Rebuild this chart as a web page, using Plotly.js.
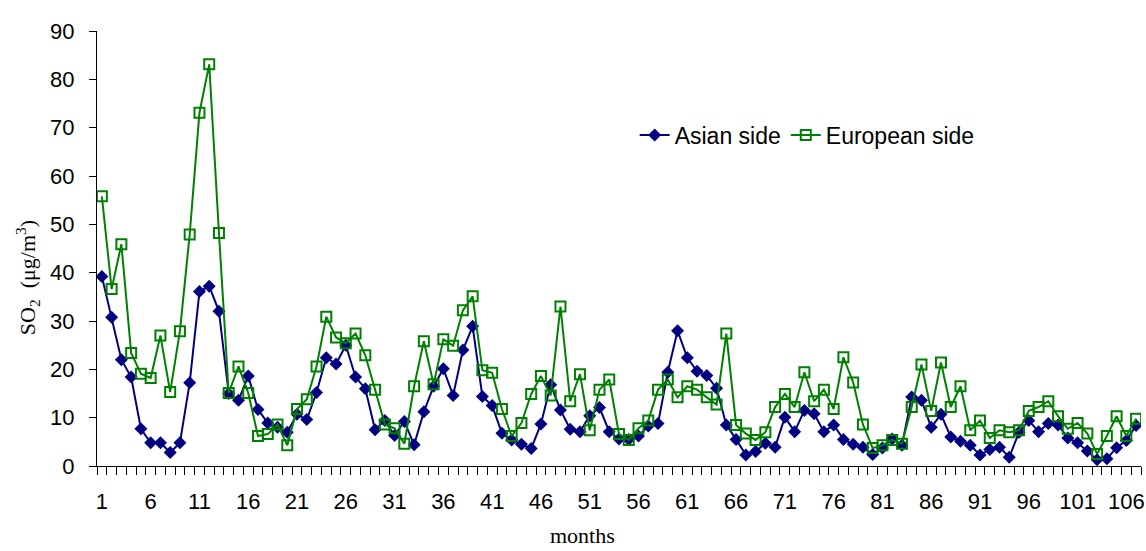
<!DOCTYPE html>
<html>
<head>
<meta charset="utf-8">
<script src="https://cdn.plot.ly/plotly-3.0.1.min.js"></script>
<style>html,body{margin:0;padding:0;background:#fff;}#chart{width:1146px;height:551px;}</style>
</head>
<body>
<div id="chart"></div>
<script>
// months 1..107
const months = Array.from({length: 107}, (_, i) => i + 1);

const asianSide = [
  39.2, 30.8, 22.0, 18.4, 7.7, 4.8, 4.8, 2.8, 4.8, 17.2,
  36.1, 37.2, 32.0, 15.0, 13.6, 18.6, 11.7, 8.9, 8.0, 7.0,
  10.7, 9.6, 15.2, 22.4, 21.1, 25.0, 18.4, 16.0, 7.5, 9.4,
  6.3, 9.2, 4.4, 11.2, 16.5, 20.1, 14.6, 24.0, 28.9, 14.4,
  12.5, 6.8, 5.4, 4.5, 3.6, 8.7, 16.8, 11.6, 7.6, 7.1,
  10.4, 12.1, 7.1, 5.6, 5.5, 6.2, 8.3, 8.8, 19.4, 28.0,
  22.4, 19.6, 18.7, 16.1, 8.5, 5.5, 2.3, 3.0, 4.7, 3.9,
  10.1, 7.1, 11.5, 10.8, 7.1, 8.5, 5.5, 4.5, 3.9, 2.4,
  3.7, 5.6, 4.3, 14.3, 13.6, 8.0, 10.7, 6.0, 5.1, 4.3,
  2.3, 3.4, 3.9, 1.8, 7.0, 9.4, 7.1, 8.8, 8.5, 5.8,
  4.8, 3.1, 1.3, 1.5, 3.8, 5.3, 8.4
];

const europeanSide = [
  55.8, 36.6, 45.9, 23.4, 19.1, 18.2, 27.0, 15.3, 27.9, 47.9,
  73.1, 83.1, 48.2, 15.1, 20.6, 15.1, 6.2, 6.6, 8.6, 4.3,
  11.8, 13.8, 20.6, 30.9, 26.6, 25.4, 27.4, 22.9, 15.8, 8.6,
  7.8, 4.6, 16.5, 25.8, 16.9, 26.2, 24.9, 32.2, 35.1, 19.8,
  19.3, 11.8, 6.2, 8.9, 14.9, 18.6, 14.6, 33.0, 13.4, 19.0,
  7.4, 15.8, 17.9, 6.6, 5.4, 7.8, 9.4, 15.8, 17.9, 14.2,
  16.5, 15.8, 14.2, 12.7, 27.4, 8.5, 6.7, 5.4, 7.0, 12.2,
  14.9, 12.2, 19.4, 13.4, 15.8, 11.8, 22.5, 17.3, 8.6, 3.7,
  4.3, 5.4, 4.6, 12.2, 21.0, 11.4, 21.4, 12.2, 16.5, 7.4,
  9.4, 5.8, 7.4, 7.0, 7.4, 11.4, 12.2, 13.4, 10.3, 7.7,
  8.9, 6.7, 2.5, 6.2, 10.3, 6.2, 9.8
];

const xTickVals = [1, 6, 11, 16, 21, 26, 31, 36, 41, 46, 51, 56, 61, 66, 71, 76, 81, 86, 91, 96, 101, 106];
const xTickText = xTickVals.map(String);
const yTickVals = [0, 10, 20, 30, 40, 50, 60, 70, 80, 90];

const traces = [
  {
    x: months, y: asianSide, name: 'Asian side', type: 'scatter', mode: 'lines+markers',
    line: {color: '#000080', width: 2},
    marker: {symbol: 'diamond', size: 10, color: '#000080', line: {width: 0}}
  },
  {
    x: months, y: europeanSide, name: 'European side', type: 'scatter', mode: 'lines+markers',
    line: {color: '#008000', width: 2},
    marker: {symbol: 'square-open', size: 10, color: '#008000', line: {width: 2, color: '#008000'}}
  }
];

const layout = {
  width: 1146, height: 551,
  margin: {l: 97, r: 5, t: 31, b: 85},
  paper_bgcolor: '#fff', plot_bgcolor: '#fff',
  font: {family: 'Liberation Sans, Arial, sans-serif', size: 22, color: '#000'},
  showlegend: true,
  legend: {
    orientation: 'h', x: 0.515, y: 0.761, xanchor: 'left', yanchor: 'middle',
    bgcolor: 'rgba(0,0,0,0)', font: {size: 23, family: 'Liberation Sans, Arial, sans-serif'},
    itemwidth: 30
  },
  xaxis: {
    range: [0.5, 107.5], showgrid: false, zeroline: false,
    showline: true, linecolor: '#000', linewidth: 1,
    tickmode: 'array', tickvals: xTickVals, ticktext: xTickText,
    ticks: 'outside', ticklen: 8, tickcolor: 'rgba(0,0,0,0)',
    ticklabelstandoff: 8,
    minor: {ticks: 'outside', tick0: 0.5, dtick: 1, ticklen: 8, tickcolor: '#000', tickwidth: 1, showgrid: false},
    tickfont: {size: 22}
  },
  yaxis: {
    range: [0, 90], showgrid: false, zeroline: false,
    showline: true, linecolor: '#000', linewidth: 1,
    tickmode: 'array', tickvals: yTickVals, ticks: 'outside', ticklen: 7, tickcolor: '#000',
    ticklabelstandoff: 10, tickfont: {size: 22}
  },
  annotations: [
    {
      text: 'SO<sub>2</sub>  (μg/m<sup>3</sup>)', textangle: -90,
      xref: 'paper', yref: 'paper', x: -0.067, y: 0.432, xanchor: 'center', yanchor: 'middle',
      showarrow: false, font: {family: 'Liberation Serif, Times New Roman, serif', size: 22, color: '#000'}
    },
    {
      text: 'months', borderpad: 0,
      xref: 'paper', yref: 'paper', x: 0.465, y: -0.16, xanchor: 'center', yanchor: 'middle',
      showarrow: false, font: {family: 'Liberation Serif, Times New Roman, serif', size: 22, color: '#000'}
    }
  ]
};

Plotly.newPlot('chart', traces, layout, {displayModeBar: false, staticPlot: true});
</script>
</body>
</html>
